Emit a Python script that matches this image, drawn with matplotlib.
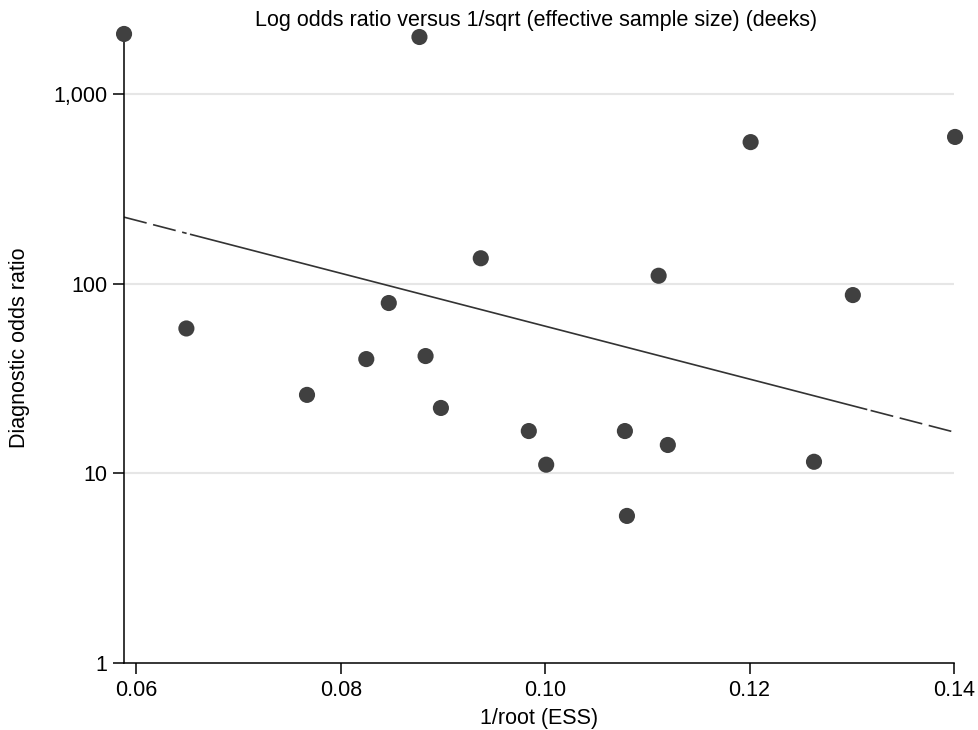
import matplotlib.pyplot as plt
import numpy as np
from matplotlib.ticker import FixedLocator, NullLocator

plt.rcParams['font.family'] = ['Liberation Sans', 'DejaVu Sans']

# 1/sqrt(ESS) and diagnostic odds ratio per study
inv_root_ess = [0.0588, 0.0877, 0.1201, 0.1401, 0.0937, 0.1111, 0.1301, 0.0649,
                0.0847, 0.0825, 0.0883, 0.0767, 0.0898, 0.0984, 0.1001, 0.1078,
                0.1120, 0.1080, 0.1263]
dor = [2070, 1995, 557, 593, 136, 110, 87, 58,
       79, 40, 41.5, 25.9, 22.1, 16.7, 11.1, 16.7,
       14.1, 5.96, 11.5]

# regression of log10(DOR) on 1/sqrt(ESS)
fit_intercept = 3.1705
fit_slope = -13.95
fit_solid_range = [0.065, 0.1315]

x_ticks = [0.06, 0.08, 0.10, 0.12, 0.14]
x_ticklabels = ['0.06', '0.08', '0.10', '0.12', '0.14']
y_ticks = [1, 10, 100, 1000]
y_ticklabels = ['1', '10', '100', '1,000']

fig = plt.figure(figsize=(9.79, 7.3), dpi=100)
ax = fig.add_axes([0.1267, 0.0918, 0.8478, 0.8633])
ax.set_yscale('log')
ax.set_xlim(0.0588, 0.14)
ax.set_ylim(1, 2100)

for yv in y_ticks[1:]:
    ax.axhline(yv, color='#e6e6e6', linewidth=1.5, zorder=0)

# fitted line: dashed outside the data, solid inside
xs = np.linspace(0.0588, 0.14, 200)
ys = 10 ** (fit_intercept + fit_slope * xs)
outside_l = xs <= fit_solid_range[0]
outside_r = xs >= fit_solid_range[1]
inside = ~outside_l & ~outside_r
ax.plot(xs[outside_l], ys[outside_l], color='#333333', linewidth=1.2, dashes=(14, 4), zorder=1)
ax.plot(xs[outside_r], ys[outside_r], color='#333333', linewidth=1.2, dashes=(14, 4), zorder=1)
ax.plot(xs[inside], ys[inside], color='#333333', linewidth=1.2, zorder=2)

ax.scatter(inv_root_ess, dor, s=135, color='#404040', edgecolors='none',
           zorder=3, clip_on=False)

ax.xaxis.set_major_locator(FixedLocator(x_ticks))
ax.set_xticklabels(x_ticklabels)
ax.yaxis.set_major_locator(FixedLocator(y_ticks))
ax.yaxis.set_minor_locator(NullLocator())
ax.set_yticklabels(y_ticklabels)
ax.tick_params(axis='both', labelsize=15.5, length=8, width=1.1, direction='out', pad=4)

for side in ['top', 'right']:
    ax.spines[side].set_visible(False)
for side in ['left', 'bottom']:
    ax.spines[side].set_linewidth(1.1)

ax.set_xlabel('1/root (ESS)', fontsize=15.5, labelpad=5)
ax.set_ylabel('Diagnostic odds ratio', fontsize=15.5, labelpad=17)
fig.text(0.548, 0.972, 'Log odds ratio versus 1/sqrt (effective sample size) (deeks)',
         ha='center', va='center', fontsize=15.5)

fig.savefig('out.png', dpi=100)
